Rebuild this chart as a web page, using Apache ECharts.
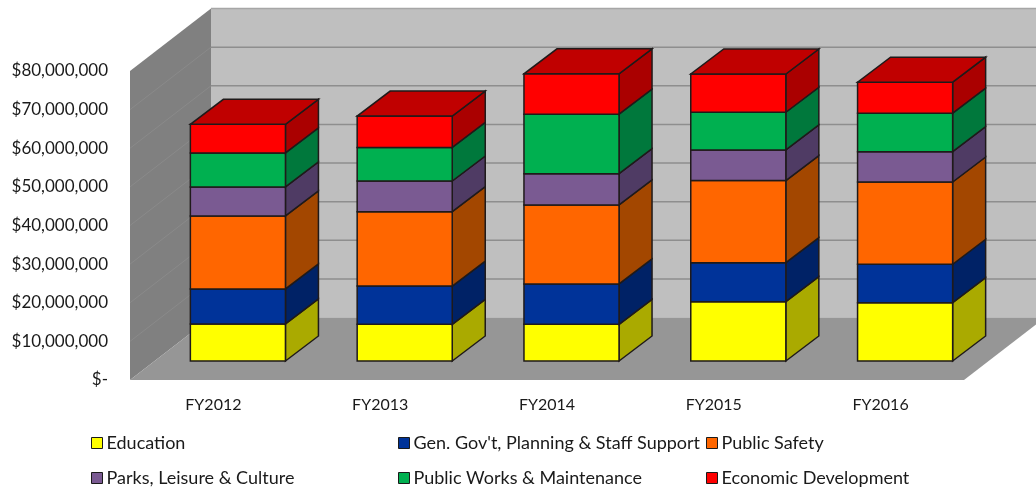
<!DOCTYPE html>
<html><head><meta charset="utf-8">
<style>html,body{margin:0;padding:0;background:#fff}#c{width:1036px;height:489px}</style>
<script src="https://cdn.jsdelivr.net/npm/echarts@6/dist/echarts.min.js"></script>
</head><body><div id="c"></div>
<script>
const categories = ['FY2012','FY2013','FY2014','FY2015','FY2016'];
const education  = [ 9600000, 9500000, 9500000,15350000,15100000];
const genGov     = [ 9070000, 9900000,10450000,10100000, 9950000];
const publicSafety=[18900000,19250000,20450000,21250000,21300000];
const parks      = [ 7500000, 7950000, 8100000, 7950000, 7850000];
const publicWorks= [ 8800000, 8700000,15400000, 9750000, 9950000];
const economic   = [ 7400000, 8100000,10450000, 9900000, 8050000];
const seriesNames = ['Education',"Gen. Gov't, Planning & Staff Support",'Public Safety','Parks, Leisure & Culture','Public Works & Maintenance','Economic Development'];
const seriesValues = [education,genGov,publicSafety,parks,publicWorks,economic];
const frontColors = ['#ffff00','#003399','#ff6600','#7a5a92','#00b050','#ff0000'];
const sideColors  = ['#aaaa00','#002266','#a34700','#4f3b64','#00783c','#aa0000'];
const topColor = '#c00000';
const yTicks = [0,10000000,20000000,30000000,40000000,50000000,60000000,70000000,80000000];

const DEPTH = [81,-62.5];      // full depth of the 3-D box
const BAR_OFFSET = [24.5,-19]; // bar front plane relative to the axis plane
const BAR_DEPTH = [33,-25];    // bar depth
const BAR_RATIO = 0.57;
const FONT = 'Lato, "Open Sans", sans-serif';
const TEXT = '#1a1a1a';

function poly(points, fill, stroke, lw){
  return {type:'polygon',shape:{points},style:{fill,stroke:stroke||null,lineWidth:lw||0}};
}
function renderWalls(params, api){
  if(params.dataIndex!==0) return;
  const cs = params.coordSys;
  const x0 = cs.x, x1 = cs.x+cs.width;
  const yB = cs.y+cs.height, yT = cs.y;
  const [dx,dy] = DEPTH;
  const ch = [];
  ch.push(poly([[x0,yT],[x0+dx,yT+dy],[x0+dx,yB+dy],[x0,yB]],'#808080'));
  ch.push(poly([[x0+dx,yT+dy],[x1+dx,yT+dy],[x1+dx,yB+dy],[x0+dx,yB+dy]],'#bfbfbf'));
  ch.push(poly([[x0,yB],[x0+dx,yB+dy],[x1+dx,yB+dy],[x1,yB]],'#969696'));
  yTicks.forEach(v=>{
    const y = api.coord([0,v])[1];
    if(v>0){
      ch.push({type:'line',shape:{x1:x0+dx,y1:y+dy,x2:x1+dx,y2:y+dy},style:{stroke:v===yTicks[yTicks.length-1]?'#a6a6a6':'#8e8e8e',lineWidth:1.5}});
      if(v<yTicks[yTicks.length-1]) ch.push({type:'line',shape:{x1:x0,y1:y,x2:x0+dx,y2:y+dy},style:{stroke:'#8a8a8a',lineWidth:1}});
    }
  });
  return {type:'group',children:ch};
}
function makeRender(si){
  return function(params, api){
    const c = api.value(0), lo = api.value(1), hi = api.value(2);
    const w = api.size([1,0])[0]*BAR_RATIO;
    const pLo = api.coord([c,lo]), pHi = api.coord([c,hi]);
    const xl = pLo[0]-w/2+BAR_OFFSET[0], xr = xl+w;
    const yb = pLo[1]+BAR_OFFSET[1], yt = pHi[1]+BAR_OFFSET[1];
    const [dx,dy] = BAR_DEPTH;
    const st = '#1f1a1a', lw = 1.5;
    const ch = [
      poly([[xr,yb],[xr+dx,yb+dy],[xr+dx,yt+dy],[xr,yt]],sideColors[si],st,lw),
      poly([[xl,yb],[xr,yb],[xr,yt],[xl,yt]],frontColors[si],st,lw)
    ];
    if(si===seriesNames.length-1) ch.push(poly([[xl,yt],[xr,yt],[xr+dx,yt+dy],[xl+dx,yt+dy]],topColor,st,lw));
    return {type:'group',children:ch};
  };
}
const series = [{
  type:'custom',name:'walls',silent:true,z:1,clip:false,
  data:[[0]],encode:{x:0},renderItem:renderWalls
}];
seriesNames.forEach((name,si)=>{
  const data = categories.map((cat,ci)=>{
    let lo = 0;
    for(let k=0;k<si;k++) lo += seriesValues[k][ci];
    return [ci,lo,lo+seriesValues[si][ci]];
  });
  series.push({type:'custom',name,z:2+si,clip:false,data,
    encode:{x:0,y:[1,2]},
    itemStyle:{color:frontColors[si]},
    renderItem:makeRender(si)});
});
const legendPos = [[91,434],[398,434],[706,434],[91,469],[398,469],[706,469]];
const legend = seriesNames.map((name,i)=>({
  left:legendPos[i][0],top:legendPos[i][1],orient:'horizontal',padding:0,
  itemWidth:11,itemHeight:11,itemGap:0,selectedMode:false,
  data:[{name,icon:'rect',itemStyle:{color:frontColors[i],borderColor:'#1a1a1a',borderWidth:1}}],
  textStyle:{fontFamily:FONT,fontSize:18,color:TEXT,padding:[0,0,0,-1]}
}));
const chart = echarts.init(document.getElementById('c'),null,{renderer:'canvas'});
chart.setOption({
  animation:false,
  backgroundColor:'#fff',
  legend,
  grid:{left:130,top:71,width:834,height:309,containLabel:false},
  xAxis:{type:'category',data:categories,boundaryGap:true,
    axisLine:{show:false},axisTick:{show:false},splitLine:{show:false},
    axisLabel:{fontFamily:FONT,fontSize:16,color:TEXT,margin:17}},
  yAxis:{type:'value',min:0,max:80000000,interval:10000000,
    axisLine:{show:false},axisTick:{show:false},splitLine:{show:false},
    axisLabel:{fontFamily:FONT,fontSize:17,color:TEXT,margin:22,
      formatter:v=>v===0?'$-':'$'+v.toLocaleString('en-US')}},
  series
});
</script></body></html>
